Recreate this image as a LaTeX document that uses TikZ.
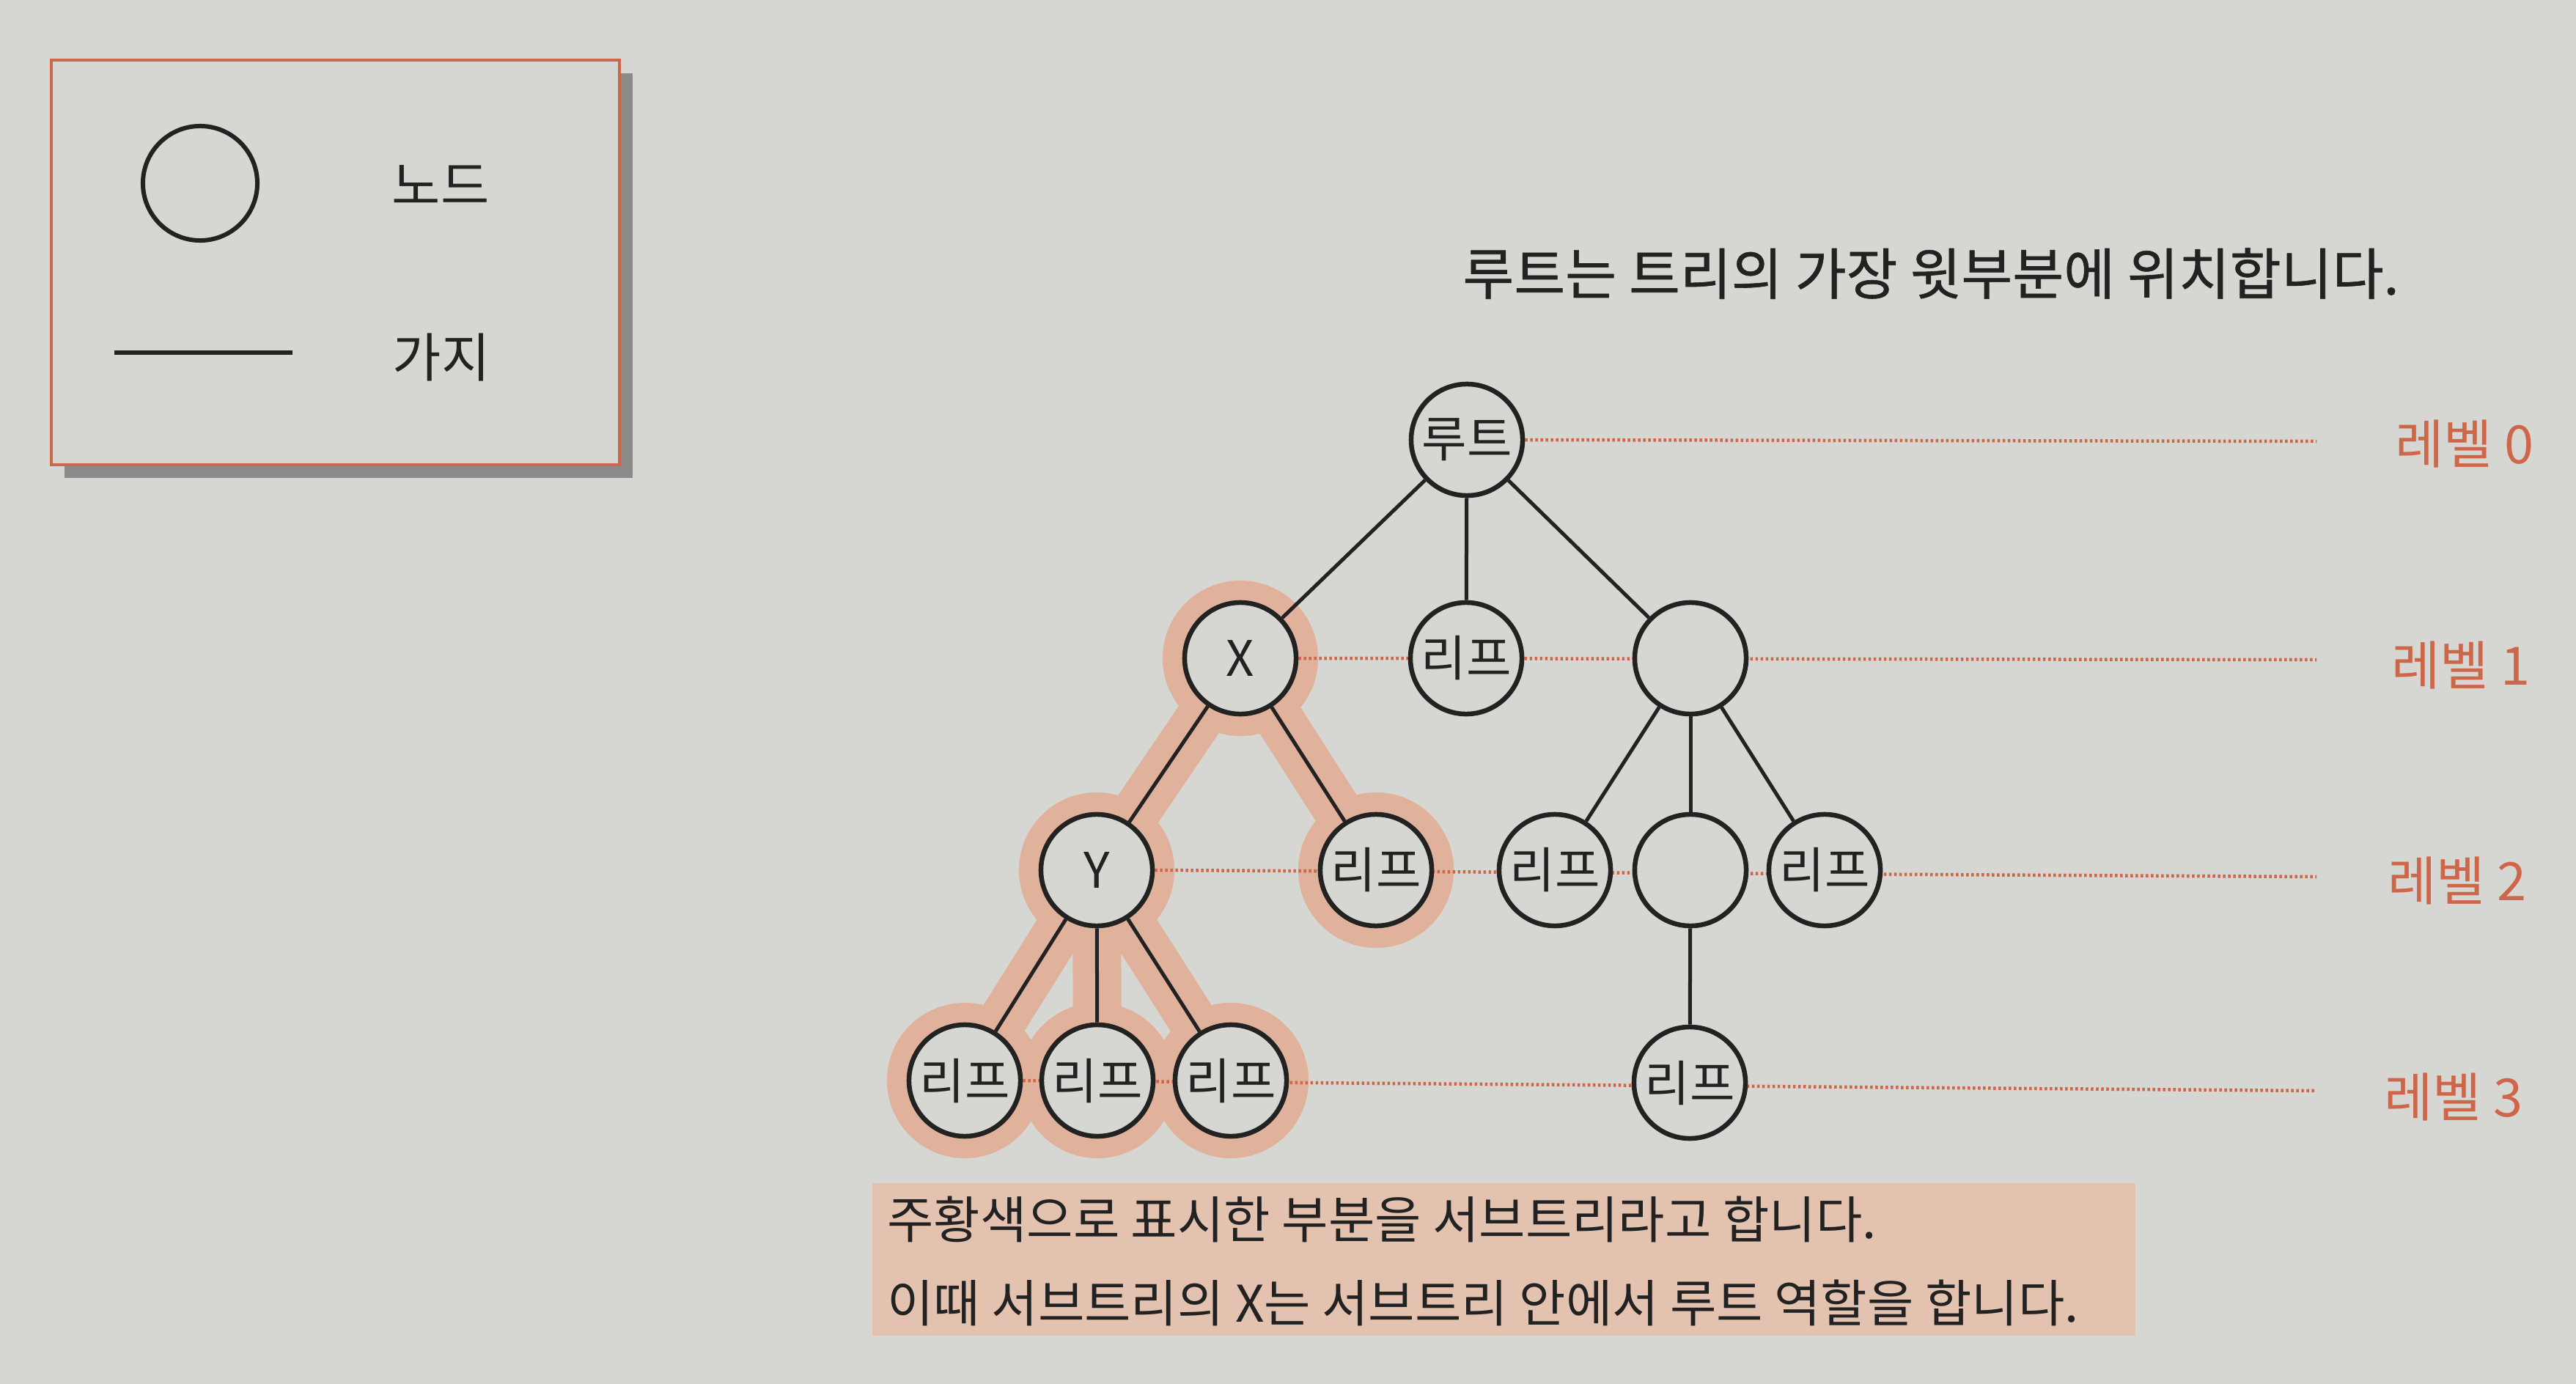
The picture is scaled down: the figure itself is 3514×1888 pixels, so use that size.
\documentclass[tikz,border=0pt]{standalone}
\usepackage{fontspec}
\setmainfont{Noto Sans CJK KR}
\newfontfamily\titlefont{Noto Sans CJK KR}[FakeBold=0.8]
\usetikzlibrary{backgrounds}

\definecolor{paper}{RGB}{214,214,210}
\definecolor{ink}{RGB}{34,34,34}
\definecolor{accent}{RGB}{206,102,74}
\definecolor{halocol}{RGB}{224,178,156}
\definecolor{capfill}{RGB}{228,194,176}
\definecolor{shadowc}{RGB}{138,138,136}

\begin{document}
\begin{tikzpicture}[x=0.01cm, y=-0.01cm, main/.style={draw=ink, circle, minimum size=1.52cm, inner sep=0pt, line width=0.065cm, fill=paper, text=ink, font=\fontsize{19}{21}\selectfont}, e/.style={draw=ink, line width=0.05cm}, lv/.style={accent, line width=0.045cm, dash pattern=on 0.035cm off 0.035cm}, lab/.style={anchor=west, text=accent, font=\fontsize{20.5}{22}\selectfont}, txt/.style={text=ink, font=\fontsize{19.6}{21}\selectfont}, halo/.style={halocol, line width=0.66cm, line cap=round}]
            \useasboundingbox (0,0) rectangle (3514,1888);
            % legend
            \fill[shadowc] (88,100) rectangle (863,652);
            \draw[accent, line width=0.045cm, fill=paper] (70,82) rectangle (845,634);
            \node[draw=ink, circle, minimum size=1.56cm, line width=0.06cm] (lc) at (273,250) {};
            \node[txt, font=\fontsize{20.5}{22}\selectfont] (ln) at (601,252) {노드};
            \coordinate (la) at (156,481);
            \coordinate (lb) at (399,481);
            \draw[e, line width=0.06cm] (la) -- (lb);
            \node[txt, font=\fontsize{20.5}{22}\selectfont] (lg) at (602,487) {가지};
            % title
            \node[txt, font=\titlefont\fontsize{21.6}{24}\selectfont] (title) at (2634,373) {루트는 트리의 가장 윗부분에 위치합니다.};
            % nodes
            \node[main] (R) at (2001,600) {루트};
            \node[main] (X) at (1692,898) {X};
            \node[main] (L1) at (2000,898) {리프};
            \node[main] (E1) at (2306,898) {};
            \node[main] (Y) at (1496,1187) {Y};
            \node[main] (L2) at (1877,1187) {리프};
            \node[main] (L3) at (2121,1187) {리프};
            \node[main] (E2) at (2306,1187) {};
            \node[main] (L4) at (2489,1187) {리프};
            \node[main] (L5) at (1316,1474) {리프};
            \node[main] (L6) at (1497,1474) {리프};
            \node[main] (L7) at (1679,1474) {리프};
            \node[main] (L8) at (2305,1477) {리프};
            % edges
            \draw[e] (R) -- (X);
            \draw[e] (R) -- (L1);
            \draw[e] (R) -- (E1);
            \draw[e] (X) -- (Y);
            \draw[e] (X) -- (L2);
            \draw[e] (E1) -- (L3);
            \draw[e] (E1) -- (E2);
            \draw[e] (E1) -- (L4);
            \draw[e] (Y) -- (L5);
            \draw[e] (Y) -- (L6);
            \draw[e] (Y) -- (L7);
            \draw[e] (E2) -- (L8);
            % levels
            \coordinate (v0) at (3160,602);
            \coordinate (v1) at (3160,900);
            \coordinate (v2) at (3160,1196);
            \coordinate (v3) at (3160,1488);
            \node[lab] (t0) at (3255,605) {레벨 0};
            \node[lab] (t1) at (3250,907) {레벨 1};
            \node[lab] (t2) at (3245,1201) {레벨 2};
            \node[lab] (t3) at (3240,1496) {레벨 3};
            % subtree highlight, level lines
            \begin{scope}[on background layer]
                \fill[paper] (0,0) rectangle (3514,1888);
                \draw[halo] (X.center) -- (Y.center);
                \draw[halo] (X.center) -- (L2.center);
                \draw[halo] (Y.center) -- (L5.center);
                \draw[halo] (Y.center) -- (L6.center);
                \draw[halo] (Y.center) -- (L7.center);
                \foreach \n in {X,Y,L2,L5,L6,L7}
                    \fill[halocol] (\n.center) circle [radius=1.06cm];
                \draw[lv] (R.east) -- (v0);
                \draw[lv] (X.east) -- (v1);
                \draw[lv] (Y.east) -- (v2);
                \draw[lv] (L5.east) -- (v3);
            \end{scope}
            % caption
            \node[fill=capfill, minimum width=17.22cm, minimum height=2.07cm, inner sep=0pt] (cap) at (2051,1718) {};
            \node[txt, anchor=west] (c1) at (1198,1663) {주황색으로 표시한 부분을 서브트리라고 합니다.};
            \node[txt, anchor=west] (c2) at (1198,1777) {이때 서브트리의 X는 서브트리 안에서 루트 역할을 합니다.};
        \end{tikzpicture}
\end{document}
